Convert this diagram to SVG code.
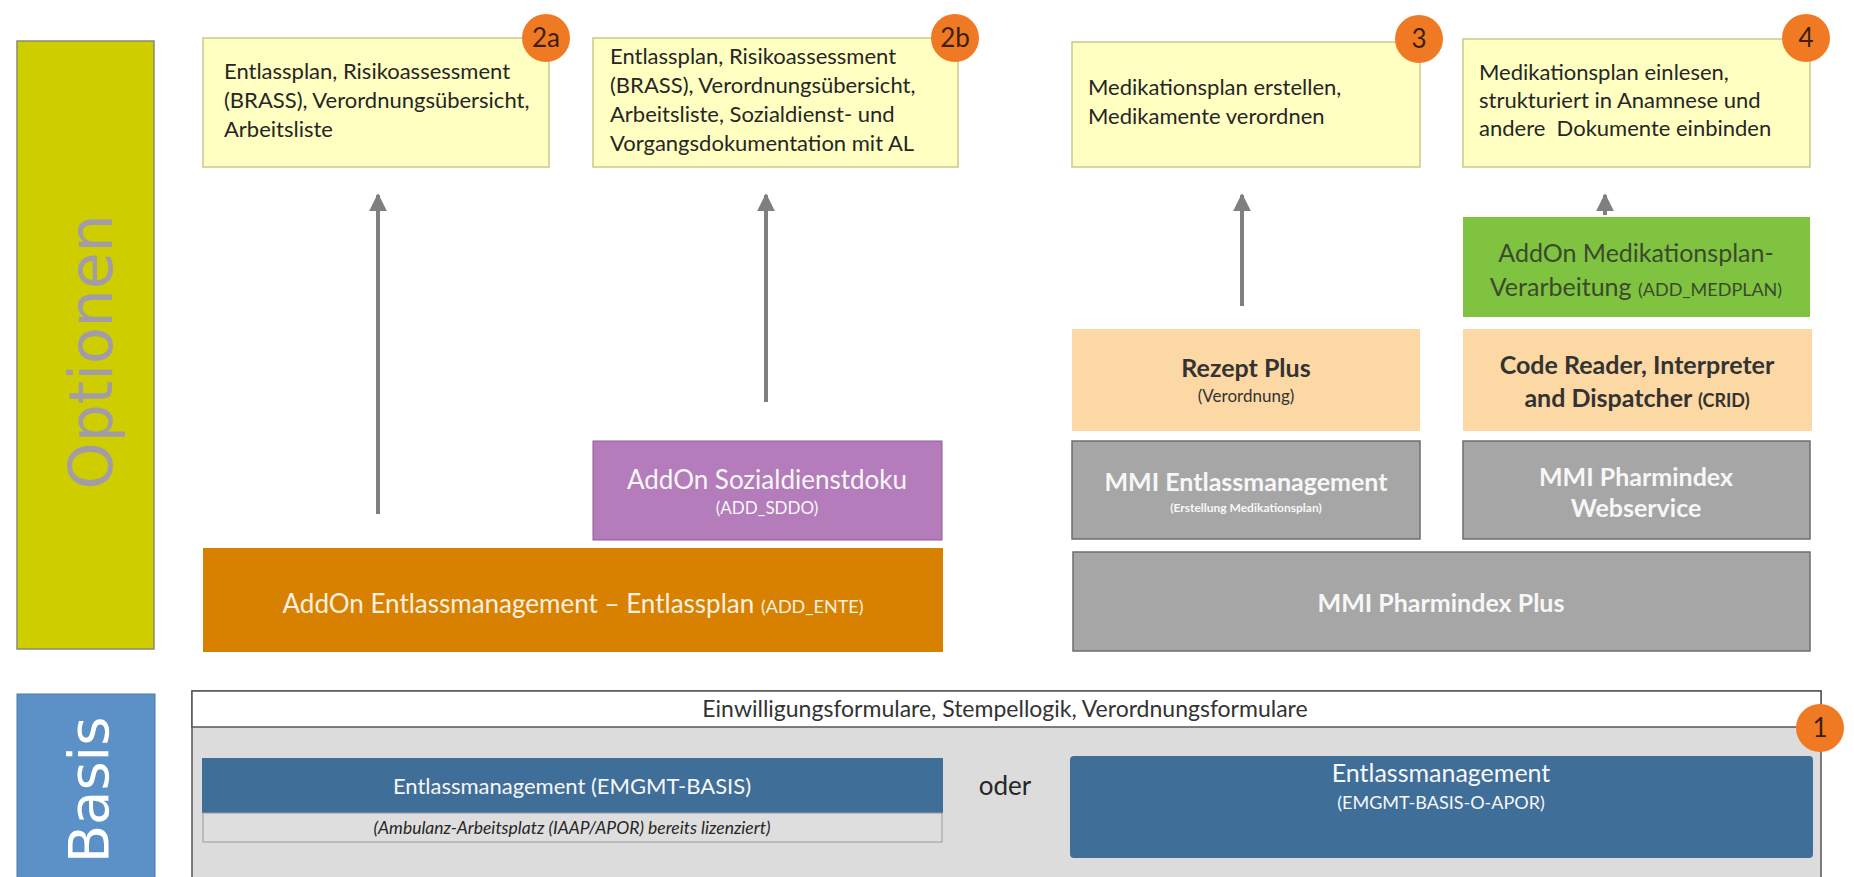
<svg xmlns="http://www.w3.org/2000/svg" width="1854" height="877" viewBox="0 0 1854 877">
<defs>
<style>
text{font-family:Lato,"Liberation Sans",sans-serif;}
.note{fill:#ffffc2;stroke:#c9c98a;stroke-width:1.5;}
.nt{font-size:22px;fill:#262626;}
.badge{fill:#f07a23;}
.bt{font-size:26px;fill:#3d1f0f;text-anchor:middle;}
.gray{fill:#a6a6a6;stroke:#6e6e6e;stroke-width:1.5;}
.wt{fill:#f7f7f7;text-anchor:middle;}
.peach{fill:#fcd8a4;}
.dk{fill:#333333;text-anchor:middle;}
.conn{stroke:#7f7f7f;stroke-width:4;fill:none;}
</style>
<marker id="ah" viewBox="0 0 10 10" refX="9" refY="5" markerWidth="4.5" markerHeight="5" orient="auto" markerUnits="strokeWidth">
<path d="M0,0 L10,5 L0,10 z" fill="#7f7f7f"/>
</marker>
</defs>
<rect width="1854" height="877" fill="#ffffff"/>

<g id="optionen">
<rect x="17" y="41" width="137" height="608" fill="#cdcd00" stroke="#8a8a70" stroke-width="1.5"/>
<text transform="translate(112,352) rotate(-90)" text-anchor="middle" style="font-family:'DejaVu Sans',sans-serif;font-size:60px;fill:#a29ca6;">Optionen</text>
</g>

<g id="basis">
<rect x="17" y="694" width="138" height="190" fill="#5b91c6" stroke="#4a7aa8" stroke-width="1"/>
<text transform="translate(108,790) rotate(-90)" text-anchor="middle" style="font-family:'DejaVu Sans',sans-serif;font-size:56px;fill:#ffffff;">Basis</text>
</g>

<g id="box2a">
<rect class="note" x="203" y="38" width="346" height="129"/>
<text class="nt" x="224" y="79">Entlassplan, Risikoassessment</text>
<text class="nt" x="224" y="108">(BRASS), Verordnungsübersicht,</text>
<text class="nt" x="224" y="137">Arbeitsliste</text>
</g>

<g id="box2b">
<rect class="note" x="593" y="38" width="365" height="129"/>
<text class="nt" x="610" y="64">Entlassplan, Risikoassessment</text>
<text class="nt" x="610" y="93">(BRASS), Verordnungsübersicht,</text>
<text class="nt" x="610" y="122">Arbeitsliste, Sozialdienst- und</text>
<text class="nt" x="610" y="151">Vorgangsdokumentation mit AL</text>
</g>

<g id="box3">
<rect class="note" x="1072" y="42" width="348" height="125"/>
<text class="nt" x="1088" y="95">Medikationsplan erstellen,</text>
<text class="nt" x="1088" y="124">Medikamente verordnen</text>
</g>

<g id="box4">
<rect class="note" x="1463" y="39" width="347" height="128"/>
<text class="nt" x="1479" y="80">Medikationsplan einlesen,</text>
<text class="nt" x="1479" y="108">strukturiert in Anamnese und</text>
<text class="nt" x="1479" y="136" xml:space="preserve">andere  Dokumente einbinden</text>
</g>

<g id="connectors">
<line class="conn" x1="378" y1="514" x2="378" y2="195" marker-end="url(#ah)"/>
<line class="conn" x1="766" y1="402" x2="766" y2="195" marker-end="url(#ah)"/>
<line class="conn" x1="1242" y1="306" x2="1242" y2="195" marker-end="url(#ah)"/>
<line class="conn" x1="1605" y1="215" x2="1605" y2="195" marker-end="url(#ah)"/>
</g>

<g id="addon-sddo">
<rect x="593" y="441" width="349" height="99" fill="#b47cba" stroke="#8e5c94" stroke-width="1"/>
<text class="wt" x="767" y="489" style="font-size:26px;">AddOn Sozialdienstdoku</text>
<text class="wt" x="767" y="514" style="font-size:17px;">(ADD_SDDO)</text>
</g>

<g id="addon-ente">
<rect x="203" y="548" width="740" height="104" fill="#d88100"/>
<text class="wt" x="573" y="613" style="font-size:26px;fill:#fbf0e0;">AddOn Entlassmanagement – Entlassplan <tspan style="font-size:18px;">(ADD_ENTE)</tspan></text>
</g>

<g id="medplan">
<rect x="1463" y="217" width="347" height="100" fill="#80c341"/>
<text class="dk" x="1636" y="262" style="font-size:25px;fill:#3a4a2c;">AddOn Medikationsplan-</text>
<text class="dk" x="1636" y="296" style="font-size:25px;fill:#3a4a2c;">Verarbeitung <tspan style="font-size:18px;">(ADD_MEDPLAN)</tspan></text>
</g>

<g id="rezept">
<rect class="peach" x="1072" y="329" width="348" height="102"/>
<text class="dk" x="1246" y="377" style="font-size:25px;font-weight:bold;">Rezept Plus</text>
<text class="dk" x="1246" y="402" style="font-size:17px;">(Verordnung)</text>
</g>

<g id="crid">
<rect class="peach" x="1463" y="329" width="349" height="102"/>
<text class="dk" x="1637" y="374" style="font-size:25px;font-weight:bold;">Code Reader, Interpreter</text>
<text class="dk" x="1637" y="407" style="font-size:25px;font-weight:bold;">and Dispatcher <tspan style="font-size:18px;">(CRID)</tspan></text>
</g>

<g id="mmi-entlass">
<rect class="gray" x="1072" y="441" width="348" height="98"/>
<text class="wt" x="1246" y="491" style="font-size:25px;font-weight:bold;">MMI Entlassmanagement</text>
<text class="wt" x="1246" y="512" style="font-size:12px;font-weight:bold;">(Erstellung Medikationsplan)</text>
</g>

<g id="mmi-webservice">
<rect class="gray" x="1463" y="441" width="347" height="98"/>
<text class="wt" x="1636" y="486" style="font-size:25px;font-weight:bold;">MMI Pharmindex</text>
<text class="wt" x="1636" y="517" style="font-size:25px;font-weight:bold;">Webservice</text>
</g>

<g id="mmi-plus">
<rect class="gray" x="1073" y="552" width="737" height="99"/>
<text class="wt" x="1441" y="612" style="font-size:25px;font-weight:bold;">MMI Pharmindex Plus</text>
</g>

<g id="basis-frame">
<rect x="192" y="691" width="1629" height="200" fill="#dcdcdc" stroke="#555555" stroke-width="1.5"/>
<rect x="192" y="691" width="1629" height="36" fill="#ffffff" stroke="#555555" stroke-width="1.5"/>
<text x="1005" y="717" text-anchor="middle" style="font-size:23px;fill:#333333;">Einwilligungsformulare, Stempellogik, Verordnungsformulare</text>
</g>

<g id="emgmt-basis">
<rect x="202" y="758" width="741" height="55" fill="#3f6e99"/>
<text class="wt" x="572" y="794" style="font-size:22px;">Entlassmanagement (EMGMT-BASIS)</text>
<rect x="203" y="813" width="739" height="29" fill="#dedede" stroke="#9a9a9a" stroke-width="1"/>
<text x="572" y="834" text-anchor="middle" style="font-size:17.5px;font-style:italic;fill:#262626;">(Ambulanz-Arbeitsplatz (IAAP/APOR) bereits lizenziert)</text>
</g>

<g id="oder">
<text x="1005" y="795" text-anchor="middle" style="font-size:26px;fill:#262626;">oder</text>
</g>

<g id="emgmt-o-apor">
<rect x="1070" y="756" width="743" height="102" rx="4" fill="#3f6e99"/>
<text class="wt" x="1441" y="782" style="font-size:25px;">Entlassmanagement</text>
<text class="wt" x="1441" y="809" style="font-size:18px;">(EMGMT-BASIS-O-APOR)</text>
</g>

<g id="badges">
<circle class="badge" cx="546" cy="38" r="24"/><text class="bt" x="546" y="47">2a</text>
<circle class="badge" cx="955" cy="38" r="24"/><text class="bt" x="955" y="47">2b</text>
<circle class="badge" cx="1419" cy="39" r="24"/><text class="bt" x="1419" y="48">3</text>
<circle class="badge" cx="1806" cy="38" r="24"/><text class="bt" x="1806" y="47">4</text>
<circle class="badge" cx="1820" cy="728" r="24"/><text class="bt" x="1820" y="737">1</text>
</g>
</svg>
